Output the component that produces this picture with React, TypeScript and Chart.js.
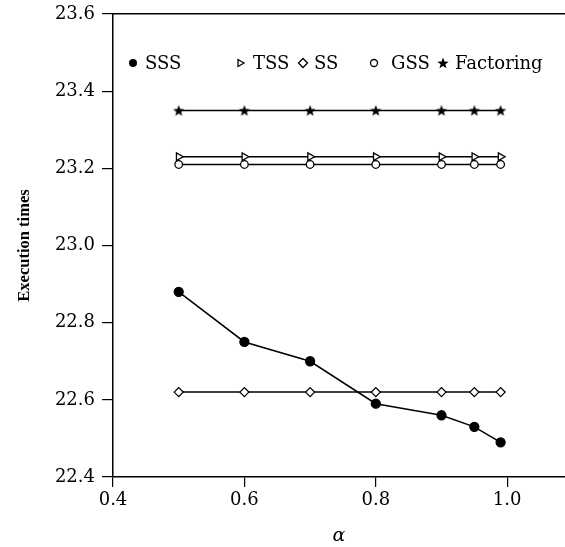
import { useEffect, useRef } from "react";
import { Chart, registerables } from "chart.js";

Chart.register(...registerables);

// ---- data ----
const alphas = [0.5, 0.6, 0.7, 0.8, 0.9, 0.95, 0.99];
const sssTimes = [22.88, 22.75, 22.7, 22.59, 22.56, 22.53, 22.49];
const tssTimes = [23.23, 23.23, 23.23, 23.23, 23.23, 23.23, 23.23];
const ssTimes = [22.62, 22.62, 22.62, 22.62, 22.62, 22.62, 22.62];
const gssTimes = [23.21, 23.21, 23.21, 23.21, 23.21, 23.21, 23.21];
const factoringTimes = [23.35, 23.35, 23.35, 23.35, 23.35, 23.35, 23.35];
const seriesNames = ["SSS", "TSS", "SS", "GSS", "Factoring"];
const xTickValues = [0.4, 0.6, 0.8, 1.0];
const yTickValues = [22.4, 22.6, 22.8, 23.0, 23.2, 23.4, 23.6];
const xTitle = "\u03b1";
const yTitle = "Execution times";

const FONT = "'DejaVu Serif', serif";

function makeStar(outer: number, inner: number): HTMLCanvasElement {
  const size = Math.ceil(outer * 2 + 2);
  const c = document.createElement("canvas");
  c.width = size;
  c.height = size;
  const g = c.getContext("2d")!;
  const cx = size / 2;
  const cy = size / 2 + 0.5;
  g.beginPath();
  for (let i = 0; i < 10; i++) {
    const r = i % 2 === 0 ? outer : inner;
    const a = -Math.PI / 2 + (i * Math.PI) / 5;
    const px = cx + r * Math.cos(a);
    const py = cy + r * Math.sin(a);
    if (i === 0) g.moveTo(px, py);
    else g.lineTo(px, py);
  }
  g.closePath();
  g.fillStyle = "#000";
  g.fill();
  return c;
}

function drawMarker(ctx: CanvasRenderingContext2D, kind: string, x: number, y: number, star: HTMLCanvasElement) {
  ctx.save();
  ctx.strokeStyle = "#000";
  ctx.lineWidth = 1.3;
  ctx.beginPath();
  if (kind === "SSS") {
    ctx.arc(x, y, 4, 0, Math.PI * 2);
    ctx.fillStyle = "#000";
    ctx.fill();
  } else if (kind === "TSS") {
    const r = 4;
    ctx.moveTo(x + r, y);
    ctx.lineTo(x - r * 0.5, y - r * 0.87);
    ctx.lineTo(x - r * 0.5, y + r * 0.87);
    ctx.closePath();
    ctx.fillStyle = "#fff";
    ctx.fill();
    ctx.stroke();
  } else if (kind === "SS") {
    const r = 4.5;
    ctx.moveTo(x, y - r);
    ctx.lineTo(x + r, y);
    ctx.lineTo(x, y + r);
    ctx.lineTo(x - r, y);
    ctx.closePath();
    ctx.fillStyle = "#fff";
    ctx.fill();
    ctx.stroke();
  } else if (kind === "GSS") {
    ctx.arc(x, y, 3.5, 0, Math.PI * 2);
    ctx.fillStyle = "#fff";
    ctx.fill();
    ctx.stroke();
  } else {
    ctx.drawImage(star, x - star.width / 2, y - star.height / 2);
  }
  ctx.restore();
}

export default function App() {
  const canvasRef = useRef<HTMLCanvasElement | null>(null);

  useEffect(() => {
    const canvas = canvasRef.current;
    if (!canvas) return;
    const star = makeStar(6, 2.5);

    const legendItems = [
      { name: seriesNames[0], mx: 133, tx: 145 },
      { name: seriesNames[1], mx: 240, tx: 253 },
      { name: seriesNames[2], mx: 303, tx: 314 },
      { name: seriesNames[3], mx: 374, tx: 391 },
      { name: seriesNames[4], mx: 443, tx: 455 },
    ];

    const legendPlugin = {
      id: "inlineLegend",
      afterDraw(chart: Chart) {
        const ctx = chart.ctx;
        const y = 63;
        ctx.save();
        ctx.font = `18px ${FONT}`;
        ctx.fillStyle = "#000";
        ctx.textBaseline = "middle";
        ctx.textAlign = "left";
        for (const it of legendItems) {
          drawMarker(ctx, it.name, it.mx, y, star);
          ctx.fillText(it.name, it.tx, y + 1);
        }
        ctx.restore();
      },
    };

    const common = {
      borderColor: "#000",
      borderWidth: 1.5,
      pointBorderColor: "#000",
      pointBorderWidth: 1.3,
      tension: 0,
      fill: false,
    };

    const mk = (arr: number[]) => alphas.map((a, i) => ({ x: a, y: arr[i] }));

    const chart = new Chart(canvas, {
      type: "line",
      data: {
        datasets: [
          {
            ...common,
            label: seriesNames[0],
            data: mk(sssTimes),
            pointStyle: "circle",
            pointRadius: 4.5,
            pointBackgroundColor: "#000",
          },
          {
            ...common,
            label: seriesNames[1],
            data: mk(tssTimes),
            pointStyle: "triangle",
            pointRotation: 90,
            pointRadius: 4.5,
            pointBackgroundColor: "#fff",
          },
          {
            ...common,
            label: seriesNames[2],
            data: mk(ssTimes),
            pointStyle: "rectRot",
            pointRadius: 4.5,
            pointBackgroundColor: "#fff",
          },
          {
            ...common,
            label: seriesNames[3],
            data: mk(gssTimes),
            pointStyle: "circle",
            pointRadius: 3.8,
            pointBackgroundColor: "#fff",
          },
          {
            ...common,
            label: seriesNames[4],
            data: mk(factoringTimes),
            pointStyle: star,
            pointRadius: 6,
          },
        ],
      },
      options: {
        animation: false,
        responsive: false,
        devicePixelRatio: 1,
        layout: { autoPadding: false, padding: { left: 0, right: 0, top: 14, bottom: 0 } },
        plugins: {
          legend: { display: false },
          tooltip: { enabled: false },
        },
        scales: {
          x: {
            type: "linear",
            position: "bottom",
            min: 0.4,
            max: 1.088,
            afterBuildTicks: (s: any) => {
              s.ticks = xTickValues.map((v) => ({ value: v }));
            },
            afterFit: (s: any) => {
              s.height = 70;
              s.paddingLeft = 0;
              s.paddingRight = 0;
            },
            ticks: {
              color: "#000",
              font: { family: FONT, size: 18 },
              padding: 3,
              maxRotation: 0,
              callback: (v: any) => Number(v).toFixed(1),
            },
            grid: {
              display: true,
              drawOnChartArea: false,
              drawTicks: true,
              tickLength: 10,
              color: "#000",
              lineWidth: 1.2,
            },
            border: { display: true, color: "#000", width: 1.5 },
            title: {
              display: true,
              text: xTitle,
              color: "#000",
              font: { family: FONT, size: 19, style: "italic" },
              padding: { top: 0, bottom: 0 },
            },
          },
          xTop: {
            type: "linear",
            position: "top",
            min: 0.4,
            max: 1.088,
            afterFit: (s: any) => {
              s.height = 0;
              s.paddingLeft = 0;
              s.paddingRight = 0;
            },
            ticks: { display: false },
            grid: { display: false, drawTicks: false },
            border: { display: true, color: "#000", width: 1.5 },
          },
          y: {
            type: "linear",
            position: "left",
            min: 22.4,
            max: 23.6,
            afterBuildTicks: (s: any) => {
              s.ticks = yTickValues.map((v) => ({ value: v }));
            },
            afterFit: (s: any) => {
              s.width = 113;
              s.paddingTop = 0;
              s.paddingBottom = 0;
            },
            ticks: {
              color: "#000",
              font: { family: FONT, size: 18 },
              padding: 7,
              callback: (v: any) => Number(v).toFixed(1),
            },
            grid: {
              display: true,
              drawOnChartArea: false,
              drawTicks: true,
              tickLength: 11,
              color: "#000",
              lineWidth: 1.2,
            },
            border: { display: true, color: "#000", width: 1.5 },
            title: {
              display: true,
              text: yTitle,
              color: "#000",
              font: { family: "'Liberation Serif', serif", size: 16.5, weight: "bold" },
              padding: { top: 15, bottom: 0 },
            },
          },
        },
      },
      plugins: [legendPlugin],
    } as any);

    return () => chart.destroy();
  }, []);

  return (
    <div style={{ position: "fixed", left: 0, top: 0, width: 565, height: 547, background: "#fff" }}>
      <canvas ref={canvasRef} width={565} height={547} style={{ display: "block" }} />
    </div>
  );
}
